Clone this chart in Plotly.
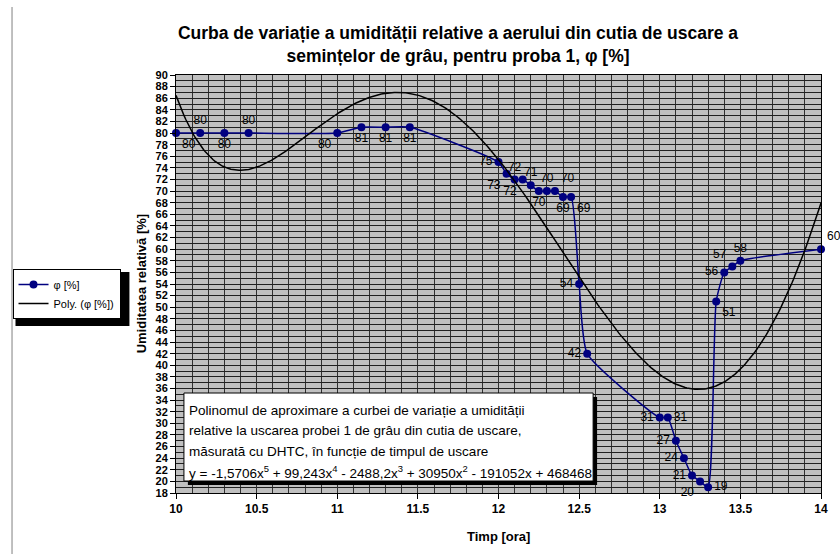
import numpy as np
import plotly.graph_objects as go

# ---- data ----
timp = [10.0, 10.15, 10.3, 10.45, 11.0, 11.15, 11.3, 11.45,
        12.0, 12.05, 12.1, 12.15, 12.2, 12.25, 12.3, 12.35, 12.4, 12.45,
        12.5, 12.55, 13.0, 13.05, 13.1, 13.15, 13.2, 13.25, 13.3,
        13.35, 13.4, 13.45, 13.5, 14.0]
phi = [80, 80, 80, 80, 80, 81, 81, 81,
       75, 73, 72, 72, 71, 70, 70, 70, 69, 69,
       54, 42, 31, 31, 27, 24, 21, 20, 19,
       51, 56, 57, 58, 60]
label_pos = ["bottom right", "top center", "bottom center", "top center",
             "bottom left", "bottom center", "bottom center", "bottom center",
             "middle left", "bottom left", "top center", "bottom left",
             "top center", "bottom center", "top center", "top right",
             "bottom center", "bottom right",
             "middle left", "middle left", "middle left", "middle right",
             "middle left", "middle left", "middle left", "bottom left",
             "middle right", "bottom right", "middle left", "top left",
             "top center", "top right"]
x_ticks = [10, 10.5, 11, 11.5, 12, 12.5, 13, 13.5, 14]
x_tick_text = ["10", "10.5", "11", "11.5", "12", "12.5", "13", "13.5", "14"]

title_text = ("Curba de variație a umidității relative a aerului din cutia de uscare a<br>"
              "semințelor de grâu, pentru proba 1, φ [%]")
eq_lines = ["Polinomul de aproximare a curbei de variație a umidității",
            "relative la uscarea probei 1 de grâu din cutia de uscare,",
            "măsurată cu DHTC, în funcție de timpul de uscare",
            "y = -1,5706x<sup>5</sup> + 99,243x<sup>4</sup> - 2488,2x<sup>3</sup> + 30950x<sup>2</sup> - 191052x + 468468"]

# ---- polynomial trendline (least squares, degree 5) ----
xa = np.array(timp)
ya = np.array(phi, dtype=float)
coef = np.polyfit(xa - 12.0, ya, 5)
xt = np.linspace(10, 14, 400)
yt = np.polyval(coef, xt - 12.0)

FONT = "Liberation Sans, Arial, sans-serif"
NAVY = "#000080"

fig = go.Figure()
fig.add_trace(go.Scatter(
    x=timp, y=phi, name="φ [%]", mode="lines+markers+text",
    line=dict(color=NAVY, width=1.5, shape="spline", smoothing=0.5),
    marker=dict(color=NAVY, size=8),
    text=[str(v) for v in phi], textposition=label_pos,
    textfont=dict(family=FONT, size=12, color="black"),
    cliponaxis=False))
fig.add_trace(go.Scatter(
    x=xt, y=yt, name="Poly. (φ [%])", mode="lines",
    line=dict(color="black", width=1.5)))

L, R, T, B = 174, 15, 75, 61
W, H = 840, 554
pw, ph = W - L - R, H - T - B

def px(xpix):
    return (xpix - L) / pw

def py(ypix):
    return (H - B - ypix) / ph

fig.update_layout(
    width=W, height=H,
    margin=dict(l=L, r=R, t=T, b=B),
    paper_bgcolor="white", plot_bgcolor="#c0c0c0",
    font=dict(family=FONT, size=12, color="black"),
    title=dict(text="<b>" + title_text + "</b>", x=458 / W, xref="container",
               xanchor="center", y=1 - 39 / H, yref="container", yanchor="middle",
               font=dict(family=FONT, size=17.5, color="black")),
    showlegend=True,
    legend=dict(x=px(9), y=py(269), xanchor="left", yanchor="top",
                bgcolor="white", bordercolor="black", borderwidth=1,
                font=dict(family=FONT, size=11, color="black"),
                tracegroupgap=4),
)

fig.update_xaxes(range=[10, 14], tickmode="array", tickvals=x_ticks, ticktext=x_tick_text,
                 ticks="outside", ticklen=5,
                 tickcolor="black", showline=True, linecolor="black", linewidth=1,
                 mirror=True, showgrid=True, gridcolor="#303030", gridwidth=1,
                 zeroline=False,
                 tickfont=dict(family=FONT, size=12, color="black", weight="bold"),
                 minor=dict(dtick=0.1, tick0=10, showgrid=True, gridcolor="#303030",
                            gridwidth=1, ticks=""))
fig.update_yaxes(range=[18, 90], dtick=2, tick0=18, ticks="outside", ticklen=5,
                 tickcolor="black", showline=True, linecolor="black", linewidth=1,
                 mirror=True, showgrid=True, gridcolor="#202020", gridwidth=1,
                 zeroline=False,
                 tickfont=dict(family=FONT, size=11, color="black", weight="bold"),
                 minor=dict(dtick=1, tick0=18, showgrid=True, gridcolor="#202020",
                            gridwidth=1, ticks=""))

# axis titles
fig.add_annotation(text="<b>Timp [ora]</b>", xref="paper", yref="paper",
                   x=px(499), y=py(536), xanchor="center", yanchor="middle",
                   showarrow=False, font=dict(family=FONT, size=13))
fig.add_annotation(text="<b>Umiditatea relativă [%]</b>", xref="paper", yref="paper",
                   x=px(139), y=py(284), xanchor="center", yanchor="middle",
                   textangle=-90, showarrow=False, font=dict(family=FONT, size=13))

# equation box with shadow
fig.add_shape(type="rect", xref="paper", yref="paper",
              x0=px(186), x1=px(599), y0=py(485), y1=py(397),
              fillcolor="black", line=dict(width=0), layer="above")
fig.add_shape(type="rect", xref="paper", yref="paper",
              x0=px(182), x1=px(595), y0=py(481), y1=py(393),
              fillcolor="white", line=dict(color="black", width=1), layer="above")
for i, line in enumerate(eq_lines):
    fig.add_annotation(text=line, xref="paper", yref="paper",
                       x=px(185), y=py(410 + i * 20.5), xanchor="left", yanchor="middle",
                       showarrow=False, font=dict(family=FONT, size=13.5, color="black"))

# legend shadow
fig.add_shape(type="rect", xref="paper", yref="paper",
              x0=px(12), x1=px(127), y0=py(326), y1=py(272),
              fillcolor="black", line=dict(width=0), layer="below")

# left border line of the chart area
fig.add_shape(type="line", xref="paper", yref="paper",
              x0=px(8.5), x1=px(8.5), y0=py(7), y1=py(554),
              line=dict(color="#808080", width=1))

fig.write_html("out.html")
